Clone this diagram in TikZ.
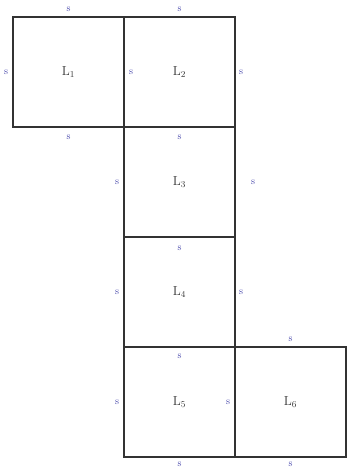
\documentclass[tikz,border=0pt]{standalone}
\usepackage{xcolor}
\definecolor{sblue}{RGB}{70,70,170}
\tikzset{
  sq/.style={draw=black!80,line width=1.1pt,minimum width=111pt,minimum height=110pt,inner sep=0pt,outer sep=0pt,text=black!80,font=\fontsize{13}{15}\selectfont},
  slab/.style={text=sblue,font=\fontsize{10}{11}\selectfont,inner sep=0pt}
}
\begin{document}
\begin{tikzpicture}[x=1pt,y=-1pt]
\useasboundingbox (0,0) rectangle (347,474);
% the six squares
\node[sq] (L1) at (68.5,72) {L$_1$};
\node[sq] (L2) at (179.5,72) {L$_2$};
\node[sq] (L3) at (179.5,182) {L$_3$};
\node[sq] (L4) at (179.5,292) {L$_4$};
\node[sq] (L5) at (179.5,402) {L$_5$};
\node[sq] (L6) at (290.5,402) {L$_6$};
% side labels
\node[slab] (s1t) at ([yshift=8pt]L1.north) {s};
\node[slab] (s1l) at ([xshift=-7pt]L1.west) {s};
\node[slab] (s1b) at ([yshift=-10pt]L1.south) {s};
\node[slab] (s2t) at ([yshift=8pt]L2.north) {s};
\node[slab] (s2l) at ([xshift=7pt]L2.west) {s};
\node[slab] (s2r) at ([xshift=6pt]L2.east) {s};
\node[slab] (s3t) at ([yshift=-10pt]L3.north) {s};
\node[slab] (s3l) at ([xshift=-7pt]L3.west) {s};
\node[slab] (s3r) at ([xshift=18pt]L3.east) {s};
\node[slab] (s4t) at ([yshift=-11pt]L4.north) {s};
\node[slab] (s4l) at ([xshift=-7pt]L4.west) {s};
\node[slab] (s4r) at ([xshift=6pt]L4.east) {s};
\node[slab] (s5t) at ([yshift=-9pt]L5.north) {s};
\node[slab] (s5l) at ([xshift=-7pt]L5.west) {s};
\node[slab] (s5r) at ([xshift=-7pt]L5.east) {s};
\node[slab] (s5b) at ([yshift=-7pt]L5.south) {s};
\node[slab] (s6t) at ([yshift=8pt]L6.north) {s};
\node[slab] (s6b) at ([yshift=-7pt]L6.south) {s};
\end{tikzpicture}
\end{document}
